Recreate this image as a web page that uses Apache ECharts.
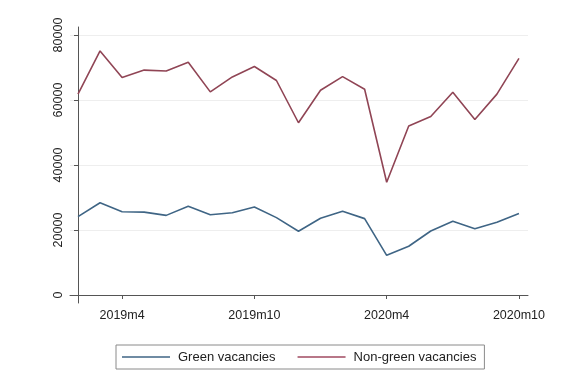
<!DOCTYPE html>
<html><head><meta charset="utf-8">
<script src="https://cdn.jsdelivr.net/npm/echarts@6/dist/echarts.min.js"></script>
<style>html,body{margin:0;padding:0;background:#fff}#c{width:574px;height:386px}</style>
</head><body><div id="c"></div>
<script>
const months = ['2019m2','2019m3','2019m4','2019m5','2019m6','2019m7','2019m8','2019m9','2019m10','2019m11','2019m12','2020m1','2020m2','2020m3','2020m4','2020m5','2020m6','2020m7','2020m8','2020m9','2020m10'];
const green = [24100,28400,25600,25500,24500,27300,24700,25300,27100,23800,19600,23600,25800,23500,12200,15000,19700,22700,20400,22400,25100];
const nonGreen = [61800,75100,66900,69200,68900,71600,62500,67100,70300,66000,53000,63000,67200,63300,34700,52000,54900,62400,54000,61800,72800];
const xTickLabels = ['2019m4','2019m10','2020m4','2020m10'];
const yTicks = [0,20000,40000,60000,80000];

const xTickIdx = xTickLabels.map(l => months.indexOf(l));
const font = 'Liberation Sans, Arial, Helvetica, sans-serif';
const chart = echarts.init(document.getElementById('c'));
chart.setOption({
  backgroundColor:'#fff',
  animation:false,
  grid:{left:70,right:46,top:27,bottom:83,containLabel:false},
  legend:{
    left:116, top:345,
    padding:[5,8,5,6],
    borderColor:'#8a8a8a', borderWidth:1,
    icon:'rect', itemWidth:48, itemHeight:1.5, itemGap:22,
    textStyle:{fontFamily:font,fontSize:13,color:'#222',padding:[0,0,0,3],height:14,lineHeight:14},
    data:['Green vacancies','Non-green vacancies']
  },
  xAxis:{
    type:'value', min:-0.363, max:20.41,
    axisLine:{lineStyle:{color:'#555',width:1}},
    axisTick:{customValues:xTickIdx,length:4,lineStyle:{color:'#555'}},
    axisLabel:{customValues:xTickIdx,formatter:v=>months[Math.round(v)],fontFamily:font,fontSize:12.5,color:'#222',margin:6},
    splitLine:{show:false}
  },
  yAxis:{
    type:'value', min:-2460, max:82460,
    axisLine:{show:true,lineStyle:{color:'#555',width:1}},
    axisTick:{show:true,customValues:yTicks,length:4,lineStyle:{color:'#555'}},
    axisLabel:{customValues:yTicks,rotate:90,align:'center',verticalAlign:'bottom',formatter:v=>String(v),fontFamily:font,fontSize:12.5,color:'#222',margin:5},
    splitLine:{show:true,lineStyle:{color:'#eeeeee',width:1}}
  },
  series:[
    {name:'Green vacancies',type:'line',symbol:'none',data:green.map((v,i)=>[i,v]),lineStyle:{color:'#3f6585',width:1.6},itemStyle:{color:'#3f6585'}},
    {name:'Non-green vacancies',type:'line',symbol:'none',data:nonGreen.map((v,i)=>[i,v]),lineStyle:{color:'#904555',width:1.6},itemStyle:{color:'#a04a60'}}
  ]
});
</script></body></html>
